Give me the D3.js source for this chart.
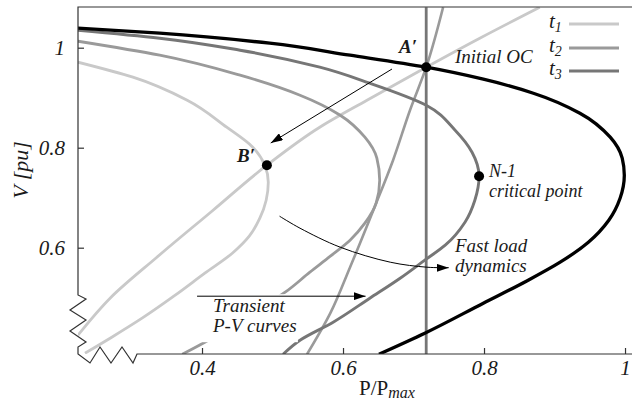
<!DOCTYPE html>
<html><head><meta charset="utf-8">
<script src="https://cdn.jsdelivr.net/npm/d3@7"></script>
<style>
body{margin:0;background:#fff}
svg{display:block}
text{font-family:"Liberation Serif","Times New Roman",serif;fill:#1a1a1a}
</style>
</head><body>
<svg id="c" width="632" height="401"></svg>
<script>
// ---------- data (P/Pmax , V [pu]) ----------
const xTicks = [0.4, 0.6, 0.8, 1];
const yTicks = [0.6, 0.8, 1];
const legendSeries = ["1", "2", "3"];

// network P-V (nose) curves
const pvPre = [[0.224,1.039],[0.340,1.029],[0.496,1.009],[0.610,0.985],[0.718,0.961],[0.799,0.937],[0.870,0.909],[0.936,0.869],[0.979,0.821],[0.996,0.779],[0.999,0.745],[0.993,0.699],[0.977,0.655],[0.948,0.611],[0.908,0.571],[0.860,0.533],[0.799,0.489],[0.716,0.429],[0.651,0.387]];
const pvT3 = [[0.224,1.035],[0.340,1.019],[0.454,0.995],[0.567,0.961],[0.638,0.929],[0.718,0.885],[0.759,0.835],[0.783,0.791],[0.793,0.743],[0.787,0.695],[0.773,0.651],[0.745,0.605],[0.716,0.575],[0.681,0.539],[0.638,0.499],[0.586,0.451],[0.539,0.415],[0.515,0.387]];
const pvT2 = [[0.224,1.013],[0.340,0.985],[0.454,0.945],[0.539,0.905],[0.596,0.865],[0.631,0.821],[0.648,0.779],[0.652,0.735],[0.647,0.689],[0.631,0.649],[0.610,0.615],[0.582,0.583],[0.553,0.551],[0.518,0.511],[0.461,0.461],[0.404,0.411],[0.372,0.387]];
const pvT1 = [[0.224,0.971],[0.302,0.941],[0.379,0.895],[0.435,0.841],[0.472,0.801],[0.489,0.765],[0.494,0.731],[0.491,0.695],[0.482,0.659],[0.467,0.623],[0.443,0.589],[0.404,0.549],[0.362,0.505],[0.315,0.459],[0.272,0.421],[0.234,0.389]];

// transient load characteristics
const loadT1 = [[0.879,1.081],[0.794,1.019],[0.718,0.961],[0.634,0.895],[0.567,0.841],[0.492,0.765],[0.414,0.673],[0.336,0.581],[0.271,0.501],[0.224,0.425]];
const loadT2 = [[0.742,1.081],[0.718,0.961],[0.695,0.875],[0.671,0.775],[0.643,0.675],[0.610,0.561],[0.582,0.469],[0.549,0.387]];
const loadT3 = [[0.718,1.081],[0.718,0.387]];

// marked operating points
const pointA = [0.718, 0.961];
const pointB = [0.492, 0.765];
const pointN1 = [0.793, 0.743];

// ---------- chart ----------
const svg = d3.select("#c");
const x = d3.scaleLinear().domain([0.2241, 1.0099]).range([78, 632]);
const y = d3.scaleLinear().domain([0.3874, 1.0814]).range([354, 7]);
const [x0, x1] = x.range(), [y0, y1] = y.range();

const cT1 = "#c9c9c9", cT2 = "#9a9a9a", cT3 = "#767676";

const defs = svg.append("defs");
defs.append("clipPath").attr("id","clip")
  .append("rect").attr("x",x0).attr("y",y1).attr("width",x1-x0).attr("height",y0-y1);
const mk = defs.append("marker").attr("id","arr")
  .attr("viewBox","0 0 12 8").attr("refX",12).attr("refY",4)
  .attr("markerWidth",12).attr("markerHeight",8).attr("markerUnits","userSpaceOnUse")
  .attr("orient","auto");
mk.append("path").attr("d","M0,0L12,4L0,8Z").attr("fill","#000");

const line = d3.line().x(d=>x(d[0])).y(d=>y(d[1])).curve(d3.curveMonotoneY);
const plot = svg.append("g").attr("clip-path","url(#clip)");

function curve(data, color, w){
  const sorted = data.slice().sort((a,b)=>a[1]-b[1]);
  plot.append("path").datum(sorted).attr("d",line).attr("fill","none")
    .attr("stroke",color).attr("stroke-width",w).attr("stroke-linecap","butt");
}
curve(pvT1, cT1, 2.8);
curve(loadT1, cT1, 2.8);
curve(pvT2, cT2, 2.8);
curve(loadT2, cT2, 2.6);
curve(pvT3, cT3, 2.9);
plot.append("path").datum(loadT3).attr("d",d3.line().x(d=>x(d[0])).y(d=>y(d[1])))
  .attr("stroke",cT3).attr("stroke-width",2.8).attr("fill","none");
curve(pvPre, "#000", 3.3);

// white label box (hides curves behind label)
svg.append("rect").attr("x",x(0.395)).attr("y",y(0.507)).attr("width",x(0.536)-x(0.395))
  .attr("height",y(0.411)-y(0.507)).attr("fill","#fff");

// arrows
const ann = svg.append("g").attr("fill","none").attr("stroke","#000").attr("stroke-width",1);
ann.append("path").attr("d",`M${x(0.6695)},${y(0.9574)}L${x(0.4975)},${y(0.8094)}`).attr("marker-end","url(#arr)");
const fastArrow = [[0.510,0.663],[0.539,0.639],[0.596,0.601],[0.667,0.571],[0.719,0.561],[0.750,0.560]];
ann.append("path").attr("d",d3.line().x(d=>x(d[0])).y(d=>y(d[1])).curve(d3.curveCatmullRom)(fastArrow)).attr("marker-end","url(#arr)");
ann.append("path").attr("d",`M${x(0.393)},${y(0.503)}L${x(0.632)},${y(0.503)}`).attr("marker-end","url(#arr)");

// axes
const axCol = "#333";
const gx = svg.append("g").attr("transform",`translate(0,${y0})`)
  .call(d3.axisBottom(x).tickValues(xTicks).tickSize(-6).tickPadding(6)
    .tickFormat(d=>d===1?"1":d3.format(".1f")(d)));
gx.select(".domain").remove();
gx.selectAll("line").attr("stroke",axCol).attr("stroke-width",1.2);
gx.selectAll("text").style("font-family","'Liberation Serif',serif").style("font-style","italic")
  .style("font-size","21px").attr("fill","#1a1a1a");

const gy = svg.append("g").attr("transform",`translate(${x0},0)`)
  .call(d3.axisLeft(y).tickValues(yTicks).tickSize(-6).tickPadding(13)
    .tickFormat(d=>d===1?"1":d3.format(".1f")(d)));
gy.select(".domain").remove();
gy.selectAll("line").attr("stroke",axCol).attr("stroke-width",1.2);
gy.selectAll("text").style("font-family","'Liberation Serif',serif").style("font-style","italic")
  .style("font-size","21px").attr("fill","#1a1a1a");

// axis lines with break marks
const axisPath = [
  [x1, y1],[x0, y1],[x0, y0-59],[x0+8, y0-55],[x0-8, y0-44],[x0+8, y0-34],[x0-8, y0-23],[x0+8, y0-12],[x0, y0-7],[x0, y0],
  [x0+12, y0+9],[x0+22, y0-7],[x0+33, y0+9],[x0+44, y0-7],[x0+55, y0+9],[x0+59, y0],[x1, y0]
];
svg.append("path").attr("d",d3.line()(axisPath)).attr("fill","none").attr("stroke",axCol).attr("stroke-width",1.2);

// axis titles
svg.append("text").attr("transform",`translate(28,${170}) rotate(-90)`).attr("text-anchor","middle")
  .style("font-style","italic").style("font-size","22px").text("V [pu]");
const xt = svg.append("text").attr("x",387).attr("y",395).attr("text-anchor","middle").style("font-size","21px");
xt.append("tspan").text("P/P");
xt.append("tspan").attr("dy",3).style("font-style","italic").style("font-size","16px").text("max");

// legend
const legY = [24, 48, 71];
const legC = [cT1, cT2, cT3];
legendSeries.forEach((s,i)=>{
  const t = svg.append("text").attr("x",549).attr("y",legY[i]+4).style("font-style","italic").style("font-size","21px");
  t.append("tspan").text("t");
  t.append("tspan").attr("dy",4).style("font-size","14px").text(s);
  svg.append("line").attr("x1",569).attr("x2",619).attr("y1",legY[i]).attr("y2",legY[i])
    .attr("stroke",legC[i]).attr("stroke-width",3);
});

// points
[pointA, pointB, pointN1].forEach(p=>{
  svg.append("circle").attr("cx",x(p[0])).attr("cy",y(p[1])).attr("r",5).attr("fill","#000");
});

// labels
function lab(txt, px, py, opts={}){
  return svg.append("text").attr("x",px).attr("y",py)
    .style("font-style","italic").style("font-size",(opts.size||19)+"px")
    .style("font-weight",opts.bold?"bold":"normal").text(txt);
}
lab("A\u2032", 399, 53, {bold:true});
lab("B\u2032", 237, 162, {bold:true});
lab("Initial OC", 455, 63);
lab("N-1", 489, 177, {size:18});
lab("critical point", 489, 197, {size:18});
lab("Fast load", 455, 252);
lab("dynamics", 455, 272);
lab("Transient", 213, 312);
lab("P-V curves", 213, 332);
</script>
</body></html>
